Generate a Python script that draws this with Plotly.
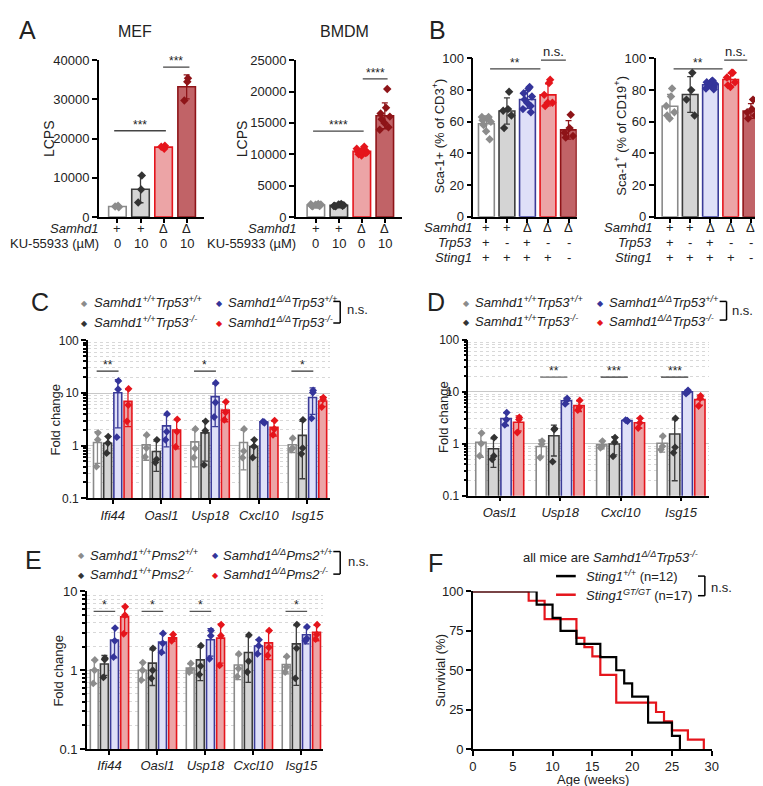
import numpy as np
import plotly.graph_objects as go

W, H = 763, 786
def X(px): return px / W
def Y(py): return 1 - py / H

FONT = "Liberation Sans, Arial, sans-serif"

# ---------------- DATA ----------------
A_samhd1 = ['+', '+', 'Δ', 'Δ']
A_ku = ['0', '10', '0', '10']
mef_points = [
    [2500, 2900, 2700],
    [10600, 7000, 3700],
    [18200, 17400, 17900],
    [35400, 34500, 29700],
]
bmdm_points = [
    [2100, 1900, 1800, 2000, 1700, 1950, 1850, 2050, 1750],
    [2100, 1950, 1800, 1900, 1700, 2000, 1850, 1750, 1800],
    [11200, 10800, 10500, 10300, 10000, 9800, 10600, 10900, 10200, 10400],
    [20400, 17400, 16500, 16000, 15600, 15000, 14300, 13900],
]
B_samhd1 = ['+', '+', 'Δ', 'Δ', 'Δ']
B_trp53 = ['+', '-', '+', '-', '-']
B_sting1 = ['+', '+', '+', '+', '-']
cd3_points = [
    [63, 62, 61, 60, 58, 54, 49, 63],
    [79, 68, 67, 64, 56],
    [82, 81, 78, 76, 74, 72, 70, 68, 66],
    [86.5, 84.5, 77, 72, 70, 72],
    [64.5, 56, 53, 51, 50],
]
cd19_points = [
    [81, 76, 70, 66, 64, 62],
    [91, 80, 74, 64],
    [86, 85.5, 85, 84, 83.5, 83, 82, 81, 80.5],
    [91, 91, 88, 85, 83, 82],
    [74, 68, 66, 64, 62],
]

C_genes = ['Ifi44', 'Oasl1', 'Usp18', 'Cxcl10', 'Isg15']
C_wt_wt = [[1.75, 1.3, 0.40], [1.6, 0.9, 0.61], [2.07, 0.88, 0.59], [2.07, 0.79, 0.59], [1.39, 0.9, 0.84]]
C_wt_ko = [[1.49, 1.12, 0.72], [1.29, 0.55, 0.48], [2.9, 1.92, 0.43], [1.29, 0.97, 0.59], [3.1, 0.9, 0.7]]
C_d_wt = [[17.0, 11.8, 1.45], [4.0, 1.84, 1.29], [15.5, 6.6, 3.5], [2.72, 2.8, 2.86], [11.2, 10.2, 3.3]]
C_d_ko = [[12.0, 5.9, 2.9], [3.16, 1.84, 0.95], [6.8, 4.3, 3.1], [3.0, 2.07, 1.6], [8.2, 7.6, 5.4]]

D_genes = ['Oasl1', 'Usp18', 'Cxcl10', 'Isg15']
D_wt_wt = [[1.6, 1.0, 0.58], [1.12, 0.98, 0.54], [1.12, 0.89, 0.83], [1.4, 0.89, 0.77]]
D_wt_ko = [[1.31, 0.58, 0.5], [1.95, 1.87, 0.45], [1.31, 1.07, 0.57], [3.07, 0.85, 0.67]]
D_d_wt = [[3.97, 2.9, 2.3], [7.4, 6.9, 5.8], [2.72, 2.78, 2.84], [10.6, 9.9, 9.2]]
D_d_ko = [[3.2, 2.9, 1.64], [6.8, 5.0, 4.4], [3.07, 2.52, 2.0], [8.3, 7.5, 5.3]]

E_genes = ['Ifi44', 'Oasl1', 'Usp18', 'Cxcl10', 'Isg15']
E_wt_wt = [[1.35, 1.0, 0.68], [1.25, 1.0, 0.75], [1.22, 1.02, 0.95], [1.61, 1.05, 0.83], [1.5, 1.1, 0.95]]
E_wt_ko = [[1.42, 1.37, 0.81], [1.9, 1.0, 0.79], [2.05, 1.13, 0.88], [2.8, 1.3, 0.95], [3.8, 1.9, 0.79]]
E_d_wt = [[3.43, 2.36, 1.47], [2.93, 2.2, 1.69], [3.19, 2.74, 1.4], [2.43, 2.05, 1.61], [3.56, 2.53, 2.36]]
E_d_ko = [[6.4, 5.0, 2.9], [2.85, 2.53, 2.36], [3.78, 2.74, 1.15], [3.19, 1.95, 1.54], [3.78, 2.85, 2.48]]

F_black_t = [0, 8, 10, 11, 13, 16, 18, 19, 20, 22, 25, 26]
F_black_s = [100, 91.7, 83.3, 75, 66.7, 58.3, 50, 41.7, 33.3, 16.7, 8.3, 0]
F_red_t = [0, 7, 9, 13, 14, 15, 16, 18, 23, 24, 25, 27, 29]
F_red_s = [100, 94.1, 82.4, 70.6, 64.7, 58.8, 47.1, 29.4, 23.5, 17.6, 11.8, 5.9, 0]

# ---------------- STYLES ----------------
GREY = dict(fill='white', line='#8a8a8a', pt='#8c8c8c')
DARK = dict(fill='#d4d4d4', line='#3c3c3c', pt='#333333')
BLUE = dict(fill='#dfe0f8', line='#3b3b98', pt='#34349a')
RED = dict(fill='#eca4a6', line='#e5151c', pt='#e5151c')
DRED = dict(fill='#c16367', line='#8e1418', pt='#8e1418')

fig = go.Figure()

def jitter(n, sp):
    return sp * np.sin(np.arange(n) * 2.4 + 0.5)

def add_bar(xa, ya, xc, pts, st, width, sp, msize=6.5):
    pts = np.array(pts, dtype=float)
    m = pts.mean()
    sd = pts.std(ddof=1)
    fig.add_trace(go.Bar(x=[xc], y=[m], width=width, xaxis=xa, yaxis=ya,
                         marker=dict(color=st['fill'], line=dict(color=st['line'], width=1.6)),
                         error_y=dict(type='data', array=[sd], visible=True, color=st['line'],
                                      thickness=1.3, width=3),
                         showlegend=False, hoverinfo='skip'))
    fig.add_trace(go.Scatter(x=xc + jitter(len(pts), sp), y=pts, mode='markers', xaxis=xa, yaxis=ya,
                             marker=dict(symbol='diamond', size=msize, color=st['pt']),
                             showlegend=False, hoverinfo='skip'))

def sig(xa, ya, x0, x1, y, text, color='#444', log=False, size=12, shift=-3):
    fig.add_trace(go.Scatter(x=[x0, x1], y=[y, y], mode='lines', xaxis=xa, yaxis=ya,
                             line=dict(color=color, width=1.3), showlegend=False, hoverinfo='skip'))
    fig.add_annotation(x=(x0 + x1) / 2, y=(np.log10(y) if log else y), xref=xa, yref=ya,
                       text=text, showarrow=False, yanchor='bottom', yshift=shift,
                       font=dict(size=size, color='#222', family=FONT))

# ---- Panel A ----
for i, (p, st) in enumerate(zip(mef_points, [GREY, DARK, RED, DRED])):
    add_bar('x', 'y', i, p, st, 0.76, 0.12)
for i, (p, st) in enumerate(zip(bmdm_points, [GREY, DARK, RED, DRED])):
    add_bar('x2', 'y2', i, p, st, 0.76, 0.22)
sig('x', 'y', -0.14, 2.1, 22000, '***')
sig('x', 'y', 1.98, 3.12, 38200, '***')
sig('x2', 'y2', -0.12, 2.08, 13700, '****')
sig('x2', 'y2', 2.04, 3.12, 22000, '****')

# ---- Panel B ----
for i, (p, st) in enumerate(zip(cd3_points, [GREY, DARK, BLUE, RED, DRED])):
    add_bar('x3', 'y3', i, p, st, 0.77, 0.22)
for i, (p, st) in enumerate(zip(cd19_points, [GREY, DARK, BLUE, RED, DRED])):
    add_bar('x4', 'y4', i, p, st, 0.77, 0.22)
sig('x3', 'y3', 0.18, 2.63, 93.4, '**')
sig('x3', 'y3', 2.66, 3.87, 99.0, 'n.s.', size=13, shift=-1)
sig('x4', 'y4', 0.18, 2.6, 93.4, '**')
sig('x4', 'y4', 2.68, 3.82, 99.0, 'n.s.', size=13, shift=-1)

# ---- grouped log panels ----
def grouped(xa, ya, series, styles, step, width):
    for j, (ser, st) in enumerate(zip(series, styles)):
        off = (j - 1.5) * step
        for g, pts in enumerate(ser):
            add_bar(xa, ya, g + off, pts, st, width, 0.025, msize=6)

grouped('x5', 'y5', [C_wt_wt, C_wt_ko, C_d_wt, C_d_ko], [GREY, DARK, BLUE, RED], 0.209, 0.162)
grouped('x6', 'y6', [D_wt_wt, D_wt_ko, D_d_wt, D_d_ko], [GREY, DARK, BLUE, RED], 0.208, 0.17)
grouped('x7', 'y7', [E_wt_wt, E_wt_ko, E_d_wt, E_d_ko], [GREY, DARK, BLUE, RED], 0.211, 0.164)

for g, txt in [(0, '**'), (2, '*'), (4, '*')]:
    sig('x5', 'y5', g - 0.33, g + 0.12, 26, txt, log=True, color='#333')
for g, txt in [(1, '**'), (2, '***'), (3, '***')]:
    sig('x6', 'y6', g - 0.33, g + 0.12, 19, txt, log=True, color='#666' if g == 1 else '#333')
for g in [0, 1, 2, 4]:
    sig('x7', 'y7', g - 0.33, g + 0.12, 5.6, '*', log=True, color='#555')

# ---- Panel F ----
fig.add_trace(go.Scatter(x=F_red_t, y=F_red_s, mode='lines', line=dict(color='#e5151c', width=2.2, shape='hv'),
                         xaxis='x8', yaxis='y8', showlegend=False, hoverinfo='skip'))
fig.add_trace(go.Scatter(x=F_black_t, y=F_black_s, mode='lines', line=dict(color='black', width=2.2, shape='hv'),
                         xaxis='x8', yaxis='y8', showlegend=False, hoverinfo='skip'))

# ---------------- AXES ----------------
base = dict(showline=True, linecolor='black', linewidth=1.5, ticks='outside', ticklen=5,
            tickwidth=1.5, tickcolor='black', zeroline=False, showgrid=False,
            tickfont=dict(size=13, color='#222', family=FONT), fixedrange=True)

def xax(dom, rng, **kw):
    d = dict(base); d.update(domain=[X(dom[0]), X(dom[1])], range=rng); d.update(kw); return d
def yax(dom, rng, **kw):
    d = dict(base); d.update(domain=[Y(dom[1]), Y(dom[0])], range=rng); d.update(kw); return d

cat_x = dict(showticklabels=False, ticklen=4)
logy = dict(type='log', showgrid=True, gridcolor='#c8c8c8', gridwidth=1,
            minor=dict(ticks='outside', ticklen=3, tickcolor='black', showgrid=True,
                       gridcolor='#d8d8d8', griddash='dot', dtick='D1'),
            tickfont=dict(size=12, color='#222', family=FONT))

layout_axes = dict(
    xaxis=xax([88, 195], [-0.81, 3.76], anchor='y', tickvals=list(range(4)), **cat_x),
    yaxis=yax([46, 206], [0, 40000], anchor='x', tickvals=[0, 10000, 20000, 30000, 40000], tickformat='d'),
    xaxis2=xax([288, 396], [-0.87, 3.76], anchor='y2', tickvals=list(range(4)), **cat_x),
    yaxis2=yax([46, 206], [0, 25000], anchor='x2', tickvals=[0, 5000, 10000, 15000, 20000, 25000], tickformat='d'),
    xaxis3=xax([468, 573], [-0.64, 4.4], anchor='y3', tickvals=list(range(5)), **cat_x),
    yaxis3=yax([44.3, 205.7], [0, 100], anchor='x3', tickvals=[0, 20, 40, 60, 80, 100]),
    xaxis4=xax([653, 761], [-0.71, 4.55], anchor='y4', tickvals=list(range(5)), **cat_x),
    yaxis4=yax([44.3, 205.7], [0, 100], anchor='x4', tickvals=[0, 20, 40, 60, 80, 100]),
    xaxis5=xax([77, 323], [-0.51, 4.47], anchor='y5', tickvals=list(range(5)),
               ticktext=[f'<i>{g}</i>' for g in C_genes], ticklen=4),
    yaxis5=yax([331.7, 492.7], [-1, 2], anchor='x5', tickvals=[0.1, 1, 10, 100],
               ticktext=['0.1', '1', '10', '100'], **logy),
    xaxis6=xax([463, 707], [-0.52, 3.46], anchor='y6', tickvals=list(range(4)),
               ticktext=[f'<i>{g}</i>' for g in D_genes], ticklen=4),
    yaxis6=yax([331, 490], [-1, 2], anchor='x6', tickvals=[0.1, 1, 10, 100],
               ticktext=['0.1', '1', '10', '100'], **logy),
    xaxis7=xax([76, 316], [-0.47, 4.46], anchor='y7', tickvals=list(range(5)),
               ticktext=[f'<i>{g}</i>' for g in E_genes], ticklen=4),
    yaxis7=yax([587.7, 748.3], [-1, 1], anchor='x7', tickvals=[0.1, 1, 10],
               ticktext=['0.1', '1', '10'], **logy),
    xaxis8=xax([467.7, 710], [0, 30], anchor='y8', tickvals=[0, 5, 10, 15, 20, 25, 30]),
    yaxis8=yax([587.7, 748.3], [0, 100], anchor='x8', tickvals=[0, 25, 50, 75, 100]),
)
layout_axes['yaxis7']['tickfont'] = dict(size=13, color='#222', family=FONT)

fig.update_layout(width=W, height=H, margin=dict(l=0, r=0, t=0, b=0),
                  paper_bgcolor='white', plot_bgcolor='white', barmode='overlay',
                  font=dict(family=FONT, color='#222'), **layout_axes)

# ---------------- TEXT ----------------
def ann(text, x, y, size=13, xanchor='center', yanchor='middle', angle=0, xref='paper', color='#222'):
    fig.add_annotation(text=text, x=(X(x) if xref == 'paper' else x), y=Y(y), xref=xref, yref='paper',
                       showarrow=False, xanchor=xanchor, yanchor=yanchor, textangle=angle,
                       font=dict(size=size, family=FONT, color=color))

for L, x, y in [('A', 16, 15), ('B', 432, 15), ('C', 28, 293), ('D', 430, 293), ('E', 22, 556), ('F', 430, 559)]:
    ann(L, x, y, size=25)

ann('MEF', 125, 17, size=16)
ann('BMDM', 337, 17, size=16)

ann('LCPS', 37, 126, size=14, angle=-90)
ann('LCPS', 233, 126, size=14, angle=-90)
ann('Sca-1+ (% of CD3<sup>+</sup>)', 432, 123, size=13, angle=-90)
ann('Sca-1<sup>+</sup> (% of CD19<sup>+</sup>)', 617, 123, size=13, angle=-90)
ann('Fold change', 44, 412, size=13, angle=-90)
ann('Fold change', 437, 410, size=13, angle=-90)
ann('Fold change', 47, 668, size=13, angle=-90)
ann('Survivial (%)', 435, 668, size=13, angle=-90)
ann('Age (weeks)', 589, 779, size=13)

ann('<i>Samhd1</i>', 89, 218, xanchor='right')
ann('KU-55933 (µM)', 90, 233, xanchor='right')
ann('<i>Samhd1</i>', 290, 218, xanchor='right')
ann('KU-55933 (µM)', 290, 233, xanchor='right')
for i in range(4):
    ann(A_samhd1[i], i, 218, xref='x')
    ann(A_ku[i], i, 233, xref='x')
    ann(A_samhd1[i], i, 218, xref='x2')
    ann(A_ku[i], i, 233, xref='x2')

for xr, right in [('x3', 469), ('x4', 651)]:
    ann('<i>Samhd1</i>', right, 217, xanchor='right')
    ann('<i>Trp53</i>', right, 232, xanchor='right')
    ann('<i>Sting1</i>', right, 247, xanchor='right')
    for i in range(5):
        ann(B_samhd1[i], i, 217, xref=xr)
        ann(B_trp53[i], i, 232, xref=xr)
        ann(B_sting1[i], i, 247, xref=xr)

def legend4(mx1, tx1, mx2, tx2, y1, y2, gene):
    items = [(mx1, tx1, y1, GREY['pt'], f'<i>Samhd1<sup>+/+</sup>{gene}<sup>+/+</sup></i>'),
             (mx1, tx1, y2, DARK['pt'], f'<i>Samhd1<sup>+/+</sup>{gene}<sup>-/-</sup></i>'),
             (mx2, tx2, y1, BLUE['pt'], f'<i>Samhd1<sup>Δ/Δ</sup>{gene}<sup>+/+</sup></i>'),
             (mx2, tx2, y2, RED['pt'], f'<i>Samhd1<sup>Δ/Δ</sup>{gene}<sup>-/-</sup></i>')]
    for mx, tx, y, c, t in items:
        ann('◆', mx, y + 1, size=8, color=c)
        ann(t, tx, y, size=13, xanchor='left')

def bracket(x, y0, y1, label_x, label_y, arm=7):
    for (xa, ya, xb, yb) in [(x - arm, y0, x, y0), (x, y0, x, y1), (x - arm, y1, x, y1)]:
        fig.add_shape(type='line', xref='paper', yref='paper', x0=X(xa), y0=Y(ya), x1=X(xb), y1=Y(yb),
                      line=dict(color='black', width=1.5))
    ann('n.s.', label_x, label_y, size=13, xanchor='left')

legend4(74, 81, 211, 217, 293, 313, 'Trp53')
bracket(333, 292, 314, 338, 300)
legend4(461, 468, 597, 604, 293, 312, 'Trp53')
bracket(725, 292, 311, 729, 301)
legend4(71, 77, 206, 212, 550, 570, 'Pms2')
bracket(333, 547, 570, 339, 557)

ann('all mice are <i>Samhd1<sup>Δ/Δ</sup>Trp53<sup>-/-</sup></i>', 607, 553, size=13)
for y, c, t in [(572, 'black', '<i>Sting1<sup>+/+</sup></i> (n=12)'),
                (591, '#e5151c', '<i>Sting1<sup>GT/GT</sup></i> (n=17)')]:
    fig.add_shape(type='line', xref='paper', yref='paper', x0=X(552), x1=X(572), y0=Y(y), y1=Y(y),
                  line=dict(color=c, width=2.5))
    ann(t, 580, y, size=13, xanchor='left')
bracket(703, 572, 592, 707, 584)

fig.write_html("out.html")
